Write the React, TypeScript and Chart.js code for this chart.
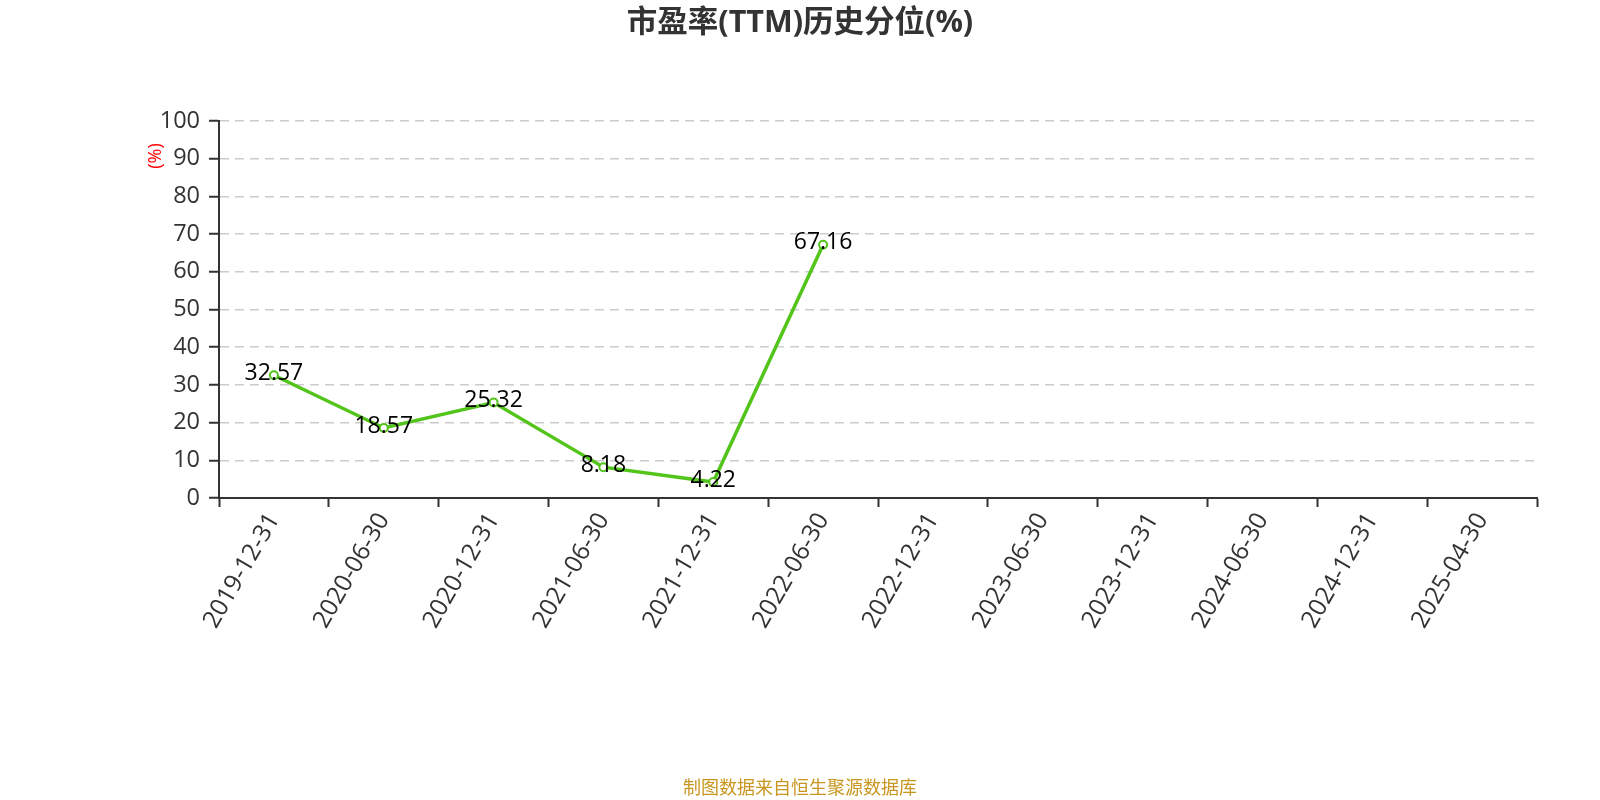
import React, { useEffect, useRef } from "react";
import { Chart, registerables } from "chart.js";

Chart.register(...registerables);

const categories = [
  "2019-12-31", "2020-06-30", "2020-12-31", "2021-06-30", "2021-12-31", "2022-06-30",
  "2022-12-31", "2023-06-30", "2023-12-31", "2024-06-30", "2024-12-31", "2025-04-30",
];
const peValues: (number | null)[] = [32.57, 18.57, 25.32, 8.18, 4.22, 67.16, null, null, null, null, null, null];
const titleText = "市盈率(TTM)历史分位(%)";
const yAxisLabel = "(%)";
const footerText = "制图数据来自恒生聚源数据库";

const FONT = "'Open Sans', 'Noto Sans CJK SC', sans-serif";

export default function App() {
  const ref = useRef<HTMLCanvasElement>(null);
  useEffect(() => {
    const canvas = ref.current!;
    const textPlugin = {
      id: "texts",
      afterDraw(chart: any) {
        const ctx = chart.ctx;
        ctx.save();
        ctx.fillStyle = "#333";
        ctx.font = `bold 30.5px ${FONT}`;
        ctx.textAlign = "center";
        ctx.textBaseline = "middle";
        ctx.fillText(titleText, 800, 23);
        ctx.fillStyle = "#c8961e";
        ctx.font = `18px ${FONT}`;
        ctx.fillText(footerText, 800, 789);
        ctx.save();
        ctx.translate(156, 156);
        ctx.rotate(-Math.PI / 2);
        ctx.fillStyle = "#ff0000";
        ctx.font = `18px ${FONT}`;
        ctx.fillText(yAxisLabel, 0, 0);
        ctx.restore();
        // data labels
        const meta = chart.getDatasetMeta(0);
        ctx.fillStyle = "#000";
        ctx.font = `23px ${FONT}`;
        meta.data.forEach((pt: any, i: number) => {
          const v = peValues[i];
          if (v == null) return;
          ctx.fillText(v.toFixed(2), pt.x, pt.y - 2);
        });
        ctx.restore();
      },
    };
    const chart = new Chart(canvas, {
      type: "line",
      data: {
        labels: categories,
        datasets: [
          {
            data: peValues,
            borderColor: "#52c41a",
            borderWidth: 3.5,
            pointBackgroundColor: "#fff",
            pointBorderColor: "#52c41a",
            pointBorderWidth: 2,
            pointRadius: 4,
            tension: 0,
            spanGaps: false,
          },
        ],
      },
      options: {
        animation: false,
        responsive: false,
        layout: { padding: { left: 0, right: 63, top: 121, bottom: 0 } },
        plugins: { legend: { display: false }, tooltip: { enabled: false }, title: { display: false } },
        scales: {
          x: {
            type: "category",
            offset: true,
            grid: {
              offset: true,
              drawOnChartArea: false,
              drawTicks: true,
              tickLength: 9,
              tickColor: "#333",
              tickWidth: 2,
            },
            border: { color: "#333", width: 2 },
            ticks: {
              color: "#333",
              font: { size: 24.5, family: FONT },
              maxRotation: 60,
              minRotation: 60,
              autoSkip: false,
              padding: 1,
            },
            afterFit(scale: any) {
              scale.height = 302;
            },
          },
          y: {
            min: 0,
            max: 100,
            ticks: {
              stepSize: 10,
              color: "#333",
              font: { size: 23.5, family: FONT },
              padding: 9,
            },
            grid: {
              color: "#ccc",
              lineWidth: 1.5,
              tickLength: 10,
              tickColor: "#333",
              tickWidth: 2,
              tickBorderDash: [],
            } as any,
            border: { color: "#333", width: 2, dash: [9, 6] } as any,
            afterFit(scale: any) {
              scale.width = 219;
            },
          },
        },
      } as any,
      plugins: [textPlugin],
    });
    return () => chart.destroy();
  }, []);
  return (
    <div style={{ position: "fixed", left: 0, top: 0, width: 1600, height: 800, background: "#fff" }}>
      <canvas ref={ref} width={1600} height={800} style={{ width: 1600, height: 800 }} />
    </div>
  );
}
